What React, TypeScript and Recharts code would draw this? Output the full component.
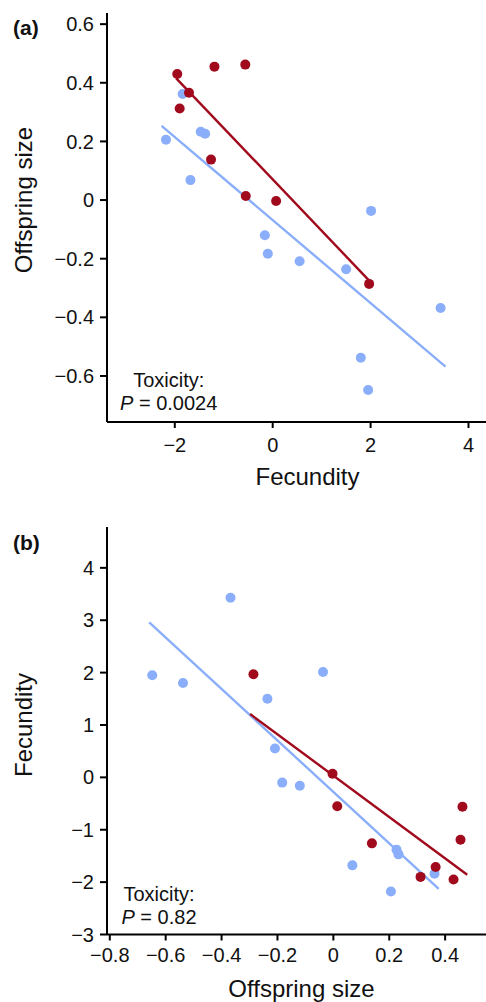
import { ScatterChart, Scatter, XAxis, YAxis, Label } from "recharts";

const FONT = '"Liberation Sans", Arial, Helvetica, sans-serif';
const BLUE = "#8aaefa";
const RED = "#a10a1d";

// red = toxicity treatment, blue = control; one value per line (fecundity, offspring size)
const redFecundity = [-1.95, -1.71, -1.9, -1.19, -0.56, -1.26, -0.55, 0.07, 1.97];
const redSize = [0.43, 0.366, 0.312, 0.455, 0.462, 0.138, 0.014, -0.003, -0.286];
const blueFecundity = [-2.18, -1.84, -1.47, -1.38, -1.68, -0.16, -0.1, 0.55, 1.5, 2.01, 3.43, 1.8, 1.95];
const blueSize = [0.206, 0.362, 0.233, 0.226, 0.068, -0.12, -0.183, -0.209, -0.236, -0.037, -0.368, -0.538, -0.648];

// fitted lines, end points
const fitARedX = [-1.97, 1.99];
const fitARedY = [0.415, -0.278];
const fitABlueX = [-2.27, 3.53];
const fitABlueY = [0.253, -0.568];
const fitBRedX = [-0.298, 0.479];
const fitBRedY = [1.21, -1.86];
const fitBBlueX = [-0.659, 0.377];
const fitBBlueY = [2.96, -2.13];

const sizeTicksA = [-0.6, -0.4, -0.2, 0, 0.2, 0.4, 0.6];
const fecTicksA = [-2, 0, 2, 4];
const fecTicksB = [-3, -2, -1, 0, 1, 2, 3, 4];
const sizeTicksB = [-0.8, -0.6, -0.4, -0.2, 0, 0.2, 0.4];

const pts = (xs: number[], ys: number[]) => xs.map((x, i) => ({ x, y: ys[i] }));
const fmt = (v: number) => (v === 0 ? "0" : String(v).replace("-", "\u2212"));

const dot = (color: string) => (p: any) => <circle cx={p.cx} cy={p.cy} r={5} fill={color} />;
const noDot = () => <g />;

const tickStyle = { fontSize: 20, fill: "#111", fontFamily: FONT };
const axisLine = { stroke: "#000", strokeWidth: 2 };

function Txt(props: any) {
  const { x, y, size = 24, rotate, anchor = "middle", bold, children } = props;
  return (
    <text
      x={x}
      y={y}
      fontSize={size}
      fontFamily={FONT}
      fontWeight={bold ? "bold" : "normal"}
      fill="#111"
      textAnchor={anchor}
      transform={rotate ? `rotate(-90 ${x} ${y})` : undefined}
    >
      {children}
    </text>
  );
}

function Note({ x, y, p }: { x: number; y: number; p: string }) {
  return (
    <g>
      <Txt x={x} y={y} size={20}>Toxicity:</Txt>
      <text x={x} y={y + 23} fontSize={20} fontFamily={FONT} fill="#111" textAnchor="middle">
        <tspan fontStyle="italic">P</tspan> = {p}
      </text>
    </g>
  );
}

function PanelA() {
  return (
    <ScatterChart width={508} height={500} margin={{ top: 13, right: 0, bottom: 0, left: 0 }}>
      <XAxis
        type="number"
        dataKey="x"
        domain={[-3.385, 4.807]}
        allowDataOverflow
        ticks={fecTicksA}
        interval={0}
        tickFormatter={fmt}
        height={78}
        tickSize={6}
        tickMargin={10}
        tick={tickStyle}
        axisLine={axisLine}
        tickLine={axisLine}
      >
        <Label content={() => <Txt x={307.5} y={485}>Fecundity</Txt>} />
      </XAxis>
      <YAxis
        type="number"
        dataKey="y"
        domain={[-0.757, 0.638]}
        allowDataOverflow
        ticks={sizeTicksA}
        interval={0}
        tickFormatter={fmt}
        width={107}
        tickSize={7}
        tickMargin={6}
        tick={tickStyle}
        axisLine={axisLine}
        tickLine={axisLine}
      >
        <Label
          content={() => (
            <g>
              <Txt x={32} y={200} rotate>Offspring size</Txt>
              <Txt x={13} y={35} size={21} anchor="start" bold>(a)</Txt>
              <Note x={168.7} y={386.7} p="0.0024" />
            </g>
          )}
        />
      </YAxis>
      <Scatter data={pts(fitABlueX, fitABlueY)} line={{ stroke: BLUE, strokeWidth: 2.4 }} shape={noDot} isAnimationActive={false} />
      <Scatter data={pts(fitARedX, fitARedY)} line={{ stroke: RED, strokeWidth: 2.4 }} shape={noDot} isAnimationActive={false} />
      <Scatter data={pts(blueFecundity, blueSize)} shape={dot(BLUE)} isAnimationActive={false} />
      <Scatter data={pts(redFecundity, redSize)} shape={dot(RED)} isAnimationActive={false} />
    </ScatterChart>
  );
}

function PanelB() {
  return (
    <ScatterChart width={496} height={502} margin={{ top: 27, right: 0, bottom: 0, left: 0 }}>
      <XAxis
        type="number"
        dataKey="x"
        domain={[-0.81, 0.582]}
        allowDataOverflow
        ticks={sizeTicksB}
        interval={0}
        tickFormatter={fmt}
        height={67.5}
        tickSize={6}
        tickMargin={7}
        tick={tickStyle}
        axisLine={axisLine}
        tickLine={axisLine}
      >
        <Label content={() => <Txt x={301.5} y={497}>Offspring size</Txt>} />
      </XAxis>
      <YAxis
        type="number"
        dataKey="y"
        domain={[-3, 4.78]}
        allowDataOverflow
        ticks={fecTicksB}
        interval={0}
        tickFormatter={fmt}
        width={107}
        tickSize={7}
        tickMargin={6}
        tick={tickStyle}
        axisLine={axisLine}
        tickLine={axisLine}
      >
        <Label
          content={() => (
            <g>
              <Txt x={32} y={225} rotate>Fecundity</Txt>
              <Txt x={13} y={50} size={21} anchor="start" bold>(b)</Txt>
              <Note x={159} y={401} p="0.82" />
            </g>
          )}
        />
      </YAxis>
      <Scatter data={pts(fitBBlueX, fitBBlueY)} line={{ stroke: BLUE, strokeWidth: 2.4 }} shape={noDot} isAnimationActive={false} />
      <Scatter data={pts(fitBRedX, fitBRedY)} line={{ stroke: RED, strokeWidth: 2.4 }} shape={noDot} isAnimationActive={false} />
      <Scatter data={pts(blueSize, blueFecundity)} shape={dot(BLUE)} isAnimationActive={false} />
      <Scatter data={pts(redSize, redFecundity)} shape={dot(RED)} isAnimationActive={false} />
    </ScatterChart>
  );
}

export default function App() {
  return (
    <div style={{ position: "absolute", left: 0, top: 0, width: 486, height: 1002, overflow: "hidden", background: "#fff" }}>
      <div style={{ position: "absolute", left: 0, top: 0 }}>
        <PanelA />
      </div>
      <div style={{ position: "absolute", left: 0, top: 500 }}>
        <PanelB />
      </div>
    </div>
  );
}
